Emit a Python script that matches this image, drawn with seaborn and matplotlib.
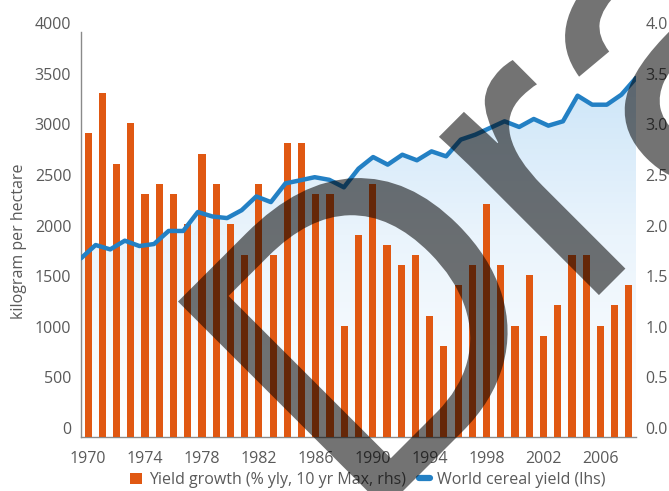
import numpy as np
import pandas as pd
import matplotlib
matplotlib.use("Agg")
import matplotlib.pyplot as plt
import matplotlib.transforms as mtransforms
from matplotlib.patches import Patch, PathPatch
from matplotlib.lines import Line2D
from matplotlib.colors import LinearSegmentedColormap
from matplotlib.textpath import TextPath
from matplotlib.font_manager import FontProperties
import seaborn as sns

# ---------------- data ----------------
years = list(range(1970, 2009))
yield_growth = [3.0, 3.4, 2.7, 3.1, 2.4, 2.5, 2.4, 2.1, 2.8, 2.5,
                2.1, 1.8, 2.5, 1.8, 2.9, 2.9, 2.4, 2.4, 1.1, 2.0,
                2.5, 1.9, 1.7, 1.8, 1.2, 0.9, 1.5, 1.7, 2.3, 1.7,
                1.1, 1.6, 1.0, 1.3, 1.8, 1.8, 1.1, 1.3, 1.5]
cereal_yield = [1765, 1896, 1853, 1939, 1886, 1906, 2035, 2035, 2222, 2178,
                2162, 2240, 2376, 2320, 2505, 2535, 2566, 2540, 2466, 2650,
                2765, 2690, 2788, 2733, 2821, 2772, 2937, 2986, 3052, 3118,
                3062, 3141, 3075, 3118, 3371, 3282, 3282, 3381, 3546]
left_ticks = [0, 500, 1000, 1500, 2000, 2500, 3000, 3500, 4000]
right_ticks = [0.0, 0.5, 1.0, 1.5, 2.0, 2.5, 3.0, 3.5, 4.0]
xtick_years = [1970, 1974, 1978, 1982, 1986, 1990, 1994, 1998, 2002, 2006]
bar_label = "Yield growth (% yly, 10 yr Max, rhs)"
line_label = "World cereal yield (lhs)"
ylabel = "kilogram per hectare"
watermark = "Draft"

ORANGE = "#e05812"
BLUE = "#2380c4"
TEXT = "#5a5a5a"
FS = 11.5

sns.set_theme(style="white")
plt.rcParams["font.family"] = ["Open Sans", "DejaVu Sans"]

W, H = 669, 491
fig = plt.figure(figsize=(W / 100, H / 100), dpi=100)
ax = fig.add_axes([81 / W, 1 - 437 / H, 555 / W, 405 / H])
ax2 = ax.twinx()
ax3 = ax.twinx()

n = len(years)
x_line = np.linspace(-0.5, n - 0.5, n)

# gradient fill under the line (on the bottom axes)
poly = ax.fill_between(x_line, cereal_yield, 0, facecolor="none", edgecolor="none")
cmap = LinearSegmentedColormap.from_list("g", ["#ffffff", "#eaf4fc", "#c4e1f7"])
grad = np.linspace(0, 1, 256).reshape(-1, 1)
im = ax.imshow(grad, extent=[-0.5, n - 0.5, 0, 4000], origin="lower",
               aspect="auto", cmap=cmap, zorder=0)
im.set_clip_path(poly.get_paths()[0], transform=ax.transData)

# bars (right axis)
df = pd.DataFrame({"year": years, "growth": yield_growth})
sns.barplot(data=df, x="year", y="growth", ax=ax2, color=ORANGE,
            saturation=1, width=0.5, linewidth=0)

# line (left scale, on top)
sns.lineplot(x=x_line, y=cereal_yield, ax=ax3, color=BLUE, linewidth=3.2,
             solid_capstyle="round", solid_joinstyle="round")

for a in (ax, ax2, ax3):
    a.set_xlim(-0.5, n - 0.5)
ax.set_ylim(0, 4000)
ax3.set_ylim(0, 4000)
ax2.set_ylim(0, 4)
ax3.axis("off")

ax.set_yticks(left_ticks)
ax.set_yticklabels([str(t) for t in left_ticks])
ax2.set_yticks(right_ticks)
ax2.set_yticklabels([f"{t:.1f}" for t in right_ticks])
ax.set_xticks([years.index(y) for y in xtick_years])
ax.set_xticklabels([str(y) for y in xtick_years])
ax.set_xlabel("")
ax2.set_xlabel("")
ax2.set_ylabel("")
ax.grid(False)
ax2.grid(False)

ax.tick_params(axis="y", length=0, pad=7, labelsize=FS, labelcolor=TEXT)
ax.tick_params(axis="x", length=0, pad=10, labelsize=FS, labelcolor=TEXT)
ax2.tick_params(axis="y", length=0, pad=7, labelsize=FS, labelcolor=TEXT)

for s in ("top", "right"):
    ax.spines[s].set_visible(False)
for s in ("left", "bottom"):
    ax.spines[s].set_color("#8a8a8a")
    ax.spines[s].set_linewidth(1.0)
for s in ax2.spines.values():
    s.set_visible(False)

ax.set_ylabel(ylabel, fontsize=FS, color=TEXT)
ax.yaxis.set_label_coords(-(81 - 27) / 555, (437 - 241) / 405)

# shift y tick labels slightly upward, as in the reference
off = mtransforms.ScaledTranslation(0, 9 / 100, fig.dpi_scale_trans)
for lab in ax.get_yticklabels() + ax2.get_yticklabels():
    lab.set_transform(lab.get_transform() + off)

handles = [Patch(facecolor=ORANGE, edgecolor="none"),
           Line2D([0], [0], color=BLUE, linewidth=4.5, solid_capstyle="round")]
fig.legend(handles, [bar_label, line_label], loc="center",
           bbox_to_anchor=(368 / W, 1 - 480 / H), ncol=2, frameon=False,
           fontsize=FS, labelcolor=TEXT, handlelength=0.7, handleheight=0.7,
           handletextpad=0.45, columnspacing=0.8, borderpad=0)

# watermark, drawn as a text path rotated by 45 degrees (pixel units)
em = 426
tp = TextPath((0, 0), watermark, size=em, prop=FontProperties(family="Liberation Sans"))
wm_tr = (mtransforms.Affine2D().rotate_deg(45).translate(360.5, H - 533.5)
         + mtransforms.Affine2D().scale(1 / W, 1 / H) + fig.transFigure)
wm = PathPatch(tp, transform=wm_tr, facecolor="black", edgecolor="none",
               alpha=0.55, zorder=10)
fig.add_artist(wm)

fig.savefig("out.png", dpi=100)
